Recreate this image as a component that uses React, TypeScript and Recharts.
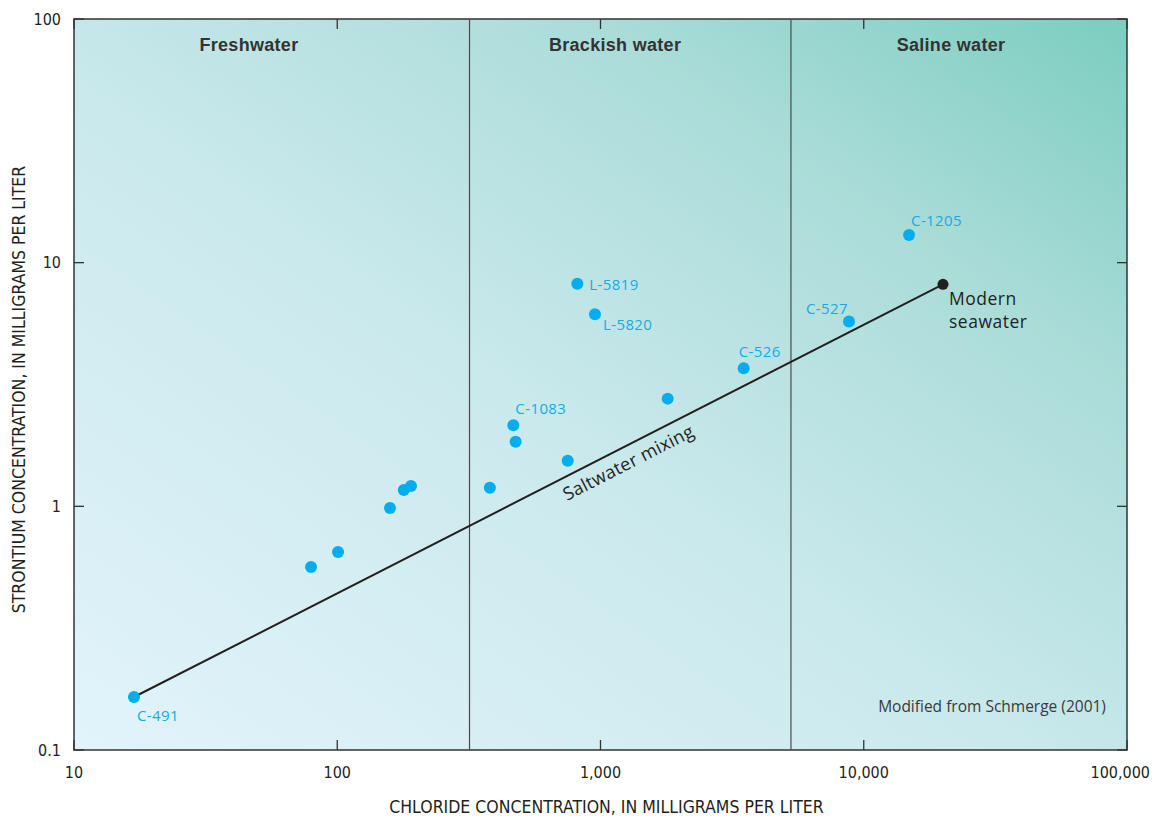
import React from "react";
import {
  ReferenceArea,
  ReferenceLine,
  Scatter,
  ScatterChart,
  XAxis,
  YAxis,
} from "recharts";

// sample wells (chloride mg/L, strontium mg/L)
const SAMPLE_WELLS = [
  "C-491", "", "", "", "", "", "", "C-1083", "", "", "", "C-526",
  "L-5819", "L-5820", "C-527", "C-1205",
];
const SAMPLE_CHLORIDE = [
  16.9, 79.5, 100.7, 158.6, 179, 190.6, 380, 466.6, 476, 750.6, 1800, 3499,
  816.5, 952.7, 8790, 14860,
];
const SAMPLE_STRONTIUM = [
  0.165, 0.564, 0.65, 0.985, 1.168, 1.212, 1.193, 2.152, 1.843, 1.54, 2.767,
  3.686, 8.2, 6.14, 5.73, 13.0,
];

const SEAWATER_CHLORIDE = 20000;
const SEAWATER_STRONTIUM = 8.15;

const X_TICKS = [10, 100, 1000, 10000, 100000];
const Y_TICKS = [0.1, 1, 10, 100];

const ZONE_BOUNDS = [318, 5290];
const ZONE_NAMES = ["Freshwater", "Brackish water", "Saline water"];
const ZONE_LABEL_X = [46.2, 1136, 21450];
const ZONE_LABEL_Y = 78.2;

const MIXING_LABEL = { x: 1272, y: 1.52, text: "Saltwater mixing" };
const SOURCE_NOTE = { x: 83180, y: 0.152, text: "Modified from Schmerge (2001)" };

// label placement relative to dot (px)
const LABEL_OFFSETS: Record<string, { dx: number; dy: number; anchor?: string }> = {
  "C-491": { dx: 3, dy: 18 },
  "C-1083": { dx: 2, dy: -17 },
  "L-5819": { dx: 12, dy: 0 },
  "L-5820": { dx: 8, dy: 10 },
  "C-526": { dx: -5, dy: -17 },
  "C-527": { dx: -1, dy: -14, anchor: "end" },
  "C-1205": { dx: 2, dy: -15 },
};

const PLOT = { left: 74, top: 19, right: 1127, bottom: 750 };
const AXIS_FONT = "'Liberation Sans Narrow', 'DejaVu Sans Condensed', 'Liberation Sans', sans-serif";
const LABEL_FONT = "'Open Sans', 'Noto Sans', sans-serif";
const INK = "#231f20";
const CYAN = "#00aeef";

const samples = SAMPLE_CHLORIDE.map((x, i) => ({
  x,
  y: SAMPLE_STRONTIUM[i],
  name: SAMPLE_WELLS[i],
}));
const seawater = [{ x: SEAWATER_CHLORIDE, y: SEAWATER_STRONTIUM }];
const mixingLine = [
  { x: SAMPLE_CHLORIDE[0], y: SAMPLE_STRONTIUM[0] },
  { x: SEAWATER_CHLORIDE, y: SEAWATER_STRONTIUM },
];
const zoneLabels = ZONE_NAMES.map((text, i) => ({ x: ZONE_LABEL_X[i], y: ZONE_LABEL_Y, text }));

function XTick({ x, payload }: any) {
  const isLast = payload.value === X_TICKS[X_TICKS.length - 1];
  return (
    <g>
      <line x1={x} x2={x} y1={PLOT.bottom} y2={PLOT.bottom - 10} stroke="#333" strokeWidth={1.3} />
      <line x1={x} x2={x} y1={PLOT.top} y2={PLOT.top + 10} stroke="#333" strokeWidth={1.3} />
      <text
        x={isLast ? x + 23 : x}
        y={PLOT.bottom + 22}
        textAnchor={isLast ? "end" : "middle"}
        dominantBaseline="central"
        fontFamily={AXIS_FONT}
        fontSize={16}
        fill={INK}
      >
        {Number(payload.value).toLocaleString("en-US")}
      </text>
    </g>
  );
}

function YTick({ y, payload }: any) {
  return (
    <g>
      <line x1={PLOT.left} x2={PLOT.left + 10} y1={y} y2={y} stroke="#333" strokeWidth={1.3} />
      <line x1={PLOT.right} x2={PLOT.right - 10} y1={y} y2={y} stroke="#333" strokeWidth={1.3} />
      <text
        x={PLOT.left - 13}
        y={y}
        textAnchor="end"
        dominantBaseline="central"
        fontFamily={AXIS_FONT}
        fontSize={16}
        fill={INK}
      >
        {String(payload.value)}
      </text>
    </g>
  );
}

function SampleDot(props: any) {
  const { cx, cy, payload } = props;
  const off = LABEL_OFFSETS[payload.name];
  return (
    <g>
      <circle cx={cx} cy={cy} r={6} fill={CYAN} />
      {off ? (
        <text
          x={cx + off.dx}
          y={cy + off.dy}
          textAnchor={off.anchor ?? "start"}
          dominantBaseline="central"
          fontFamily={LABEL_FONT}
          fontSize={15}
          letterSpacing={0.4}
          fill="#1aa9e3"
        >
          {payload.name}
        </text>
      ) : null}
    </g>
  );
}

function SeawaterDot({ cx, cy }: any) {
  return (
    <g>
      <circle cx={cx} cy={cy} r={5.5} fill={INK} />
      <text x={cx + 6} y={cy + 14} dominantBaseline="central" fontFamily={LABEL_FONT} fontSize={17.5} letterSpacing={0.5} fill={INK}>
        Modern
      </text>
      <text x={cx + 6} y={cy + 37} dominantBaseline="central" fontFamily={LABEL_FONT} fontSize={17.5} letterSpacing={0.5} fill={INK}>
        seawater
      </text>
    </g>
  );
}

function ZoneLabel({ cx, cy, payload }: any) {
  return (
    <text
      x={cx}
      y={cy}
      textAnchor="middle"
      dominantBaseline="central"
      fontFamily="'Liberation Sans', Arial, sans-serif"
      fontWeight="bold"
      fontSize={18}
      letterSpacing={0.3}
      fill="#333"
    >
      {payload.text}
    </text>
  );
}

function MixingLabel({ cx, cy, payload }: any) {
  return (
    <text
      x={cx}
      y={cy}
      textAnchor="middle"
      dominantBaseline="central"
      transform={`rotate(-27, ${cx}, ${cy})`}
      fontFamily={LABEL_FONT}
      fontSize={18}
      letterSpacing={0.3}
      fill={INK}
    >
      {payload.text}
    </text>
  );
}

function NoteLabel({ cx, cy, payload }: any) {
  return (
    <text x={cx} y={cy} textAnchor="end" dominantBaseline="central" fontFamily={LABEL_FONT} fontSize={15.5} fill="#3a3a3a">
      {payload.text}
    </text>
  );
}

export default function App() {
  return (
    <div style={{ position: "absolute", left: 0, top: 0, width: 1155, height: 819, background: "#fff" }}>
      <ScatterChart width={1155} height={819} margin={{ top: 19, right: 28, bottom: 0, left: 0 }}>
        <defs>
          <linearGradient id="waterBg" x1="0" y1="1" x2="1" y2="0">
            <stop offset="0%" stopColor="#e2f4fb" />
            <stop offset="45%" stopColor="#cae9ec" />
            <stop offset="75%" stopColor="#aadcd8" />
            <stop offset="100%" stopColor="#7ccdc0" />
          </linearGradient>
        </defs>
        <XAxis
          type="number"
          dataKey="x"
          scale="log"
          domain={[10, 100000]}
          ticks={X_TICKS}
          height={69}
          axisLine={false}
          tickLine={false}
          tickSize={0}
          tick={<XTick />}
          interval={0}
          label={{
            value: "CHLORIDE CONCENTRATION, IN MILLIGRAMS PER LITER",
            position: "center",
            dx: 6,
            dy: 22,
            style: { fontFamily: AXIS_FONT, fontSize: 17.5, fill: INK },
          }}
        />
        <YAxis
          type="number"
          dataKey="y"
          scale="log"
          domain={[0.1, 100]}
          ticks={Y_TICKS}
          width={74}
          axisLine={false}
          tickLine={false}
          tickSize={0}
          tick={<YTick />}
          interval={0}
          label={{
            value: "STRONTIUM CONCENTRATION, IN MILLIGRAMS PER LITER",
            position: "center",
            angle: -90,
            dx: -18,
            dy: 5,
            style: { fontFamily: AXIS_FONT, fontSize: 17.5, fill: INK },
          }}
        />
        <ReferenceArea
          x1={10}
          x2={100000}
          y1={0.1}
          y2={100}
          fill="url(#waterBg)"
          fillOpacity={1}
          stroke="#333"
          strokeWidth={1.5}
        />
        {ZONE_BOUNDS.map((b) => (
          <ReferenceLine key={b} x={b} stroke="#4a4a4a" strokeWidth={1.2} />
        ))}
        <Scatter
          data={mixingLine}
          line={{ stroke: INK, strokeWidth: 2 }}
          shape={() => <g />}
          isAnimationActive={false}
        />
        <Scatter data={samples} shape={<SampleDot />} isAnimationActive={false} />
        <Scatter data={seawater} shape={<SeawaterDot />} isAnimationActive={false} />
        <Scatter data={zoneLabels} shape={<ZoneLabel />} isAnimationActive={false} />
        <Scatter data={[MIXING_LABEL]} shape={<MixingLabel />} isAnimationActive={false} />
        <Scatter data={[SOURCE_NOTE]} shape={<NoteLabel />} isAnimationActive={false} />
      </ScatterChart>
    </div>
  );
}
